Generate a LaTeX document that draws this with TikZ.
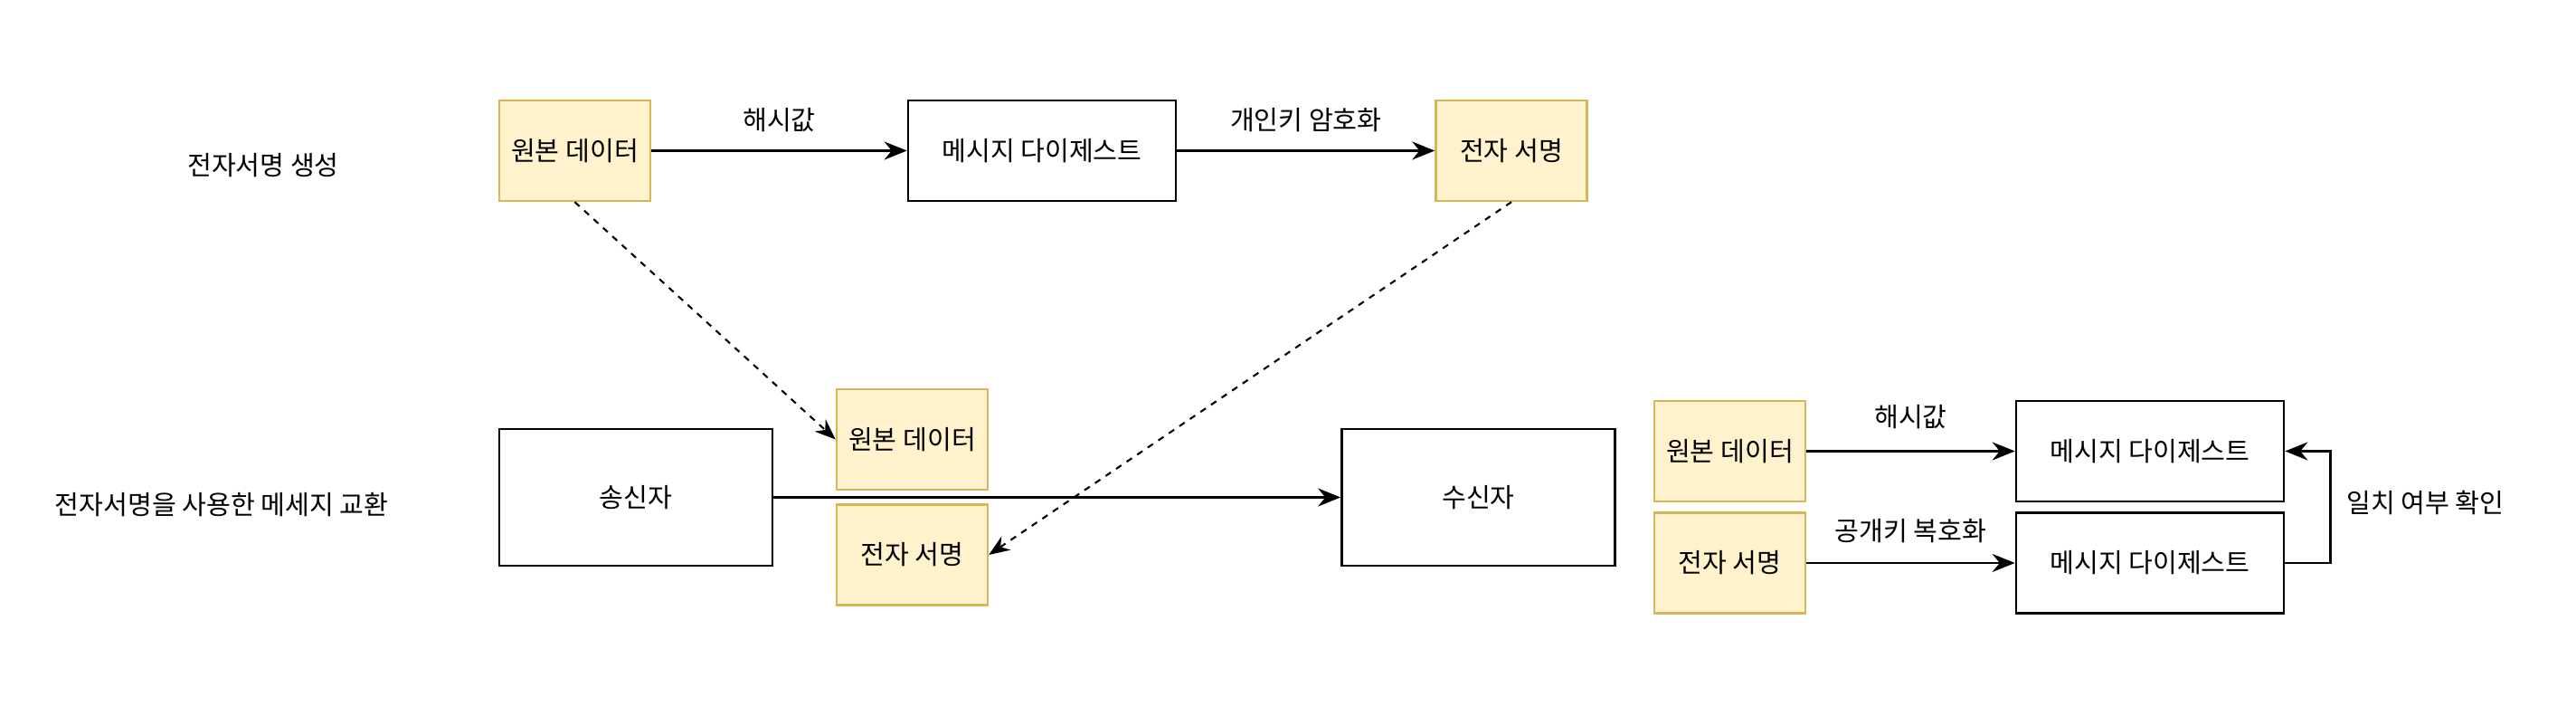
\documentclass[tikz,border=0pt]{standalone}
\usepackage{fontspec}
\setmainfont{Noto Sans CJK KR}
\usetikzlibrary{arrows.meta}
\definecolor{notefill}{HTML}{FFF2CC}
\definecolor{noteline}{HTML}{D6B656}
\begin{document}
\begin{tikzpicture}[
  box/.style={rectangle, draw, line width=0.75pt, minimum width=2.96cm, minimum height=1.11cm, inner sep=0pt},
  note/.style={rectangle, draw=noteline, fill=notefill, line width=0.7pt, minimum width=1.67cm, minimum height=1.11cm, inner sep=0pt},
  party/.style={rectangle, draw, line width=0.75pt, minimum width=3.02cm, minimum height=1.51cm, inner sep=0pt},
  flow/.style={-{Stealth[length=2.5mm,width=2mm]}, line width=0.75pt},
  copyline/.style={-{Stealth[length=2.3mm,width=1.8mm]}, line width=0.6pt, dash pattern=on 2pt off 2pt},
  font=\fontsize{8.3pt}{10pt}\selectfont
]
\useasboundingbox (0,0) rectangle (28.48,7.8);

% Signature generation
\node at (2.91,5.97) (gentitle) {전자서명 생성};
\node[note] at (6.355,6.135) (data) {원본 데이터};
\node[box, right of=data, node distance=5.165cm] (digest) {메시지 다이제스트};
\node[note, right of=digest, node distance=5.19cm] (sig) {전자 서명};

\draw[flow] (data) -- node[above, yshift=0.08cm] {해시값} (digest);
\draw[flow] (digest) -- node[above, yshift=0.08cm] {개인키 암호화} (sig);

% Message exchange
\node at (2.45,2.22) (xtitle) {전자서명을 사용한 메세지 교환};
\node[party] at (7.03,2.305) (sender) {송신자};
\node[party, right of=sender, node distance=9.315cm] (receiver) {수신자};
\node[note] at (10.085,2.945) (sentdata) {원본 데이터};
\node[note, below of=sentdata, node distance=1.275cm] (sentsig) {전자 서명};

\draw[flow] (sender) -- (receiver);
\draw[copyline] (data.south) -- (sentdata.west);
\draw[copyline] (sig.south) -- (sentsig.east);

% Verification
\node[note] at (19.125,2.815) (rdata) {원본 데이터};
\node[note, below of=rdata, node distance=1.235cm] (rsig) {전자 서명};
\node[box, right of=rdata, node distance=4.645cm] (dupper) {메시지 다이제스트};
\node[box, right of=rsig, node distance=4.645cm] (dlower) {메시지 다이제스트};

\draw[flow] (rdata) -- node[above, yshift=0.12cm] {해시값} (dupper);
\draw[flow] (rsig) -- node[above, yshift=0.09cm] {공개키 복호화} (dlower);
\draw[flow] (dlower.east) -- ++(0.5,0) |- node[pos=0.27, right, xshift=0.05cm] {일치 여부 확인} (dupper.east);
\end{tikzpicture}
\end{document}
